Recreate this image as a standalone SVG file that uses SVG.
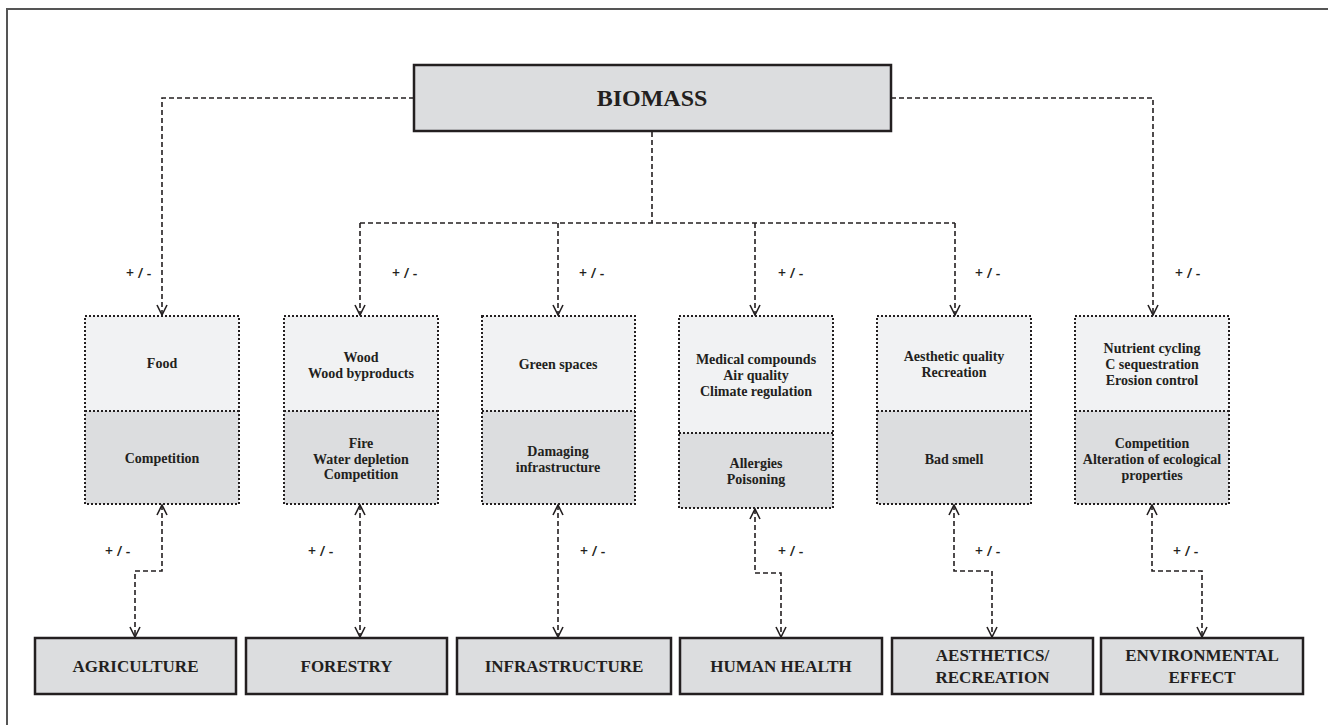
<svg xmlns="http://www.w3.org/2000/svg" width="1328" height="725" viewBox="0 0 1328 725">
<style>
.frame{fill:#fff;stroke:#555;stroke-width:2}
.solid{fill:#dcdddf;stroke:#231f20;stroke-width:2.5}
.top{fill:#f1f2f3;stroke:none}
.bot{fill:#dcdddf;stroke:none}
.dot{fill:none;stroke:#231f20;stroke-width:2;stroke-dasharray:2 2}
.con{fill:none;stroke:#231f20;stroke-width:1.6;stroke-dasharray:5 3}
.t{font-family:"Liberation Serif","Times New Roman",serif;font-weight:bold;font-size:14px;fill:#231f20;text-anchor:middle}
.h{font-family:"Liberation Serif","Times New Roman",serif;font-weight:bold;font-size:17px;fill:#231f20;text-anchor:middle}
.pm{font-family:"Open Sans","Liberation Sans",Arial,sans-serif;font-size:14px;font-weight:600;fill:#231f20}
</style>
<defs>
<marker id="ah" viewBox="0 0 12 12" markerWidth="12" markerHeight="12" refX="11" refY="6" orient="auto-start-reverse" markerUnits="userSpaceOnUse">
<path d="M1,1 L11,6 L1,11" fill="none" stroke="#231f20" stroke-width="1.6" stroke-dasharray="none"/>
</marker>
</defs>
<rect class="frame" x="7" y="9" width="1340" height="740"/>

<g id="connectors">
<path class="con" d="M414,98 H162 V315" marker-end="url(#ah)"/>
<path class="con" d="M891,98 H1153 V315" marker-end="url(#ah)"/>
<path class="con" d="M652,132 V223"/>
<path class="con" d="M360,223 H955"/>
<path class="con" d="M360,223 V315" marker-end="url(#ah)"/>
<path class="con" d="M558,223 V315" marker-end="url(#ah)"/>
<path class="con" d="M755,223 V315" marker-end="url(#ah)"/>
<path class="con" d="M955,223 V315" marker-end="url(#ah)"/>
<path class="con" d="M162,505 V571 H135 V637" marker-start="url(#ah)" marker-end="url(#ah)"/>
<path class="con" d="M360,505 V637" marker-start="url(#ah)" marker-end="url(#ah)"/>
<path class="con" d="M558,505 V637" marker-start="url(#ah)" marker-end="url(#ah)"/>
<path class="con" d="M755,509 V573 H781 V637" marker-start="url(#ah)" marker-end="url(#ah)"/>
<path class="con" d="M954,505 V571 H992 V637" marker-start="url(#ah)" marker-end="url(#ah)"/>
<path class="con" d="M1152,505 V571 H1202 V637" marker-start="url(#ah)" marker-end="url(#ah)"/>
<text class="pm" x="126" y="278">+ / -</text>
<text class="pm" x="392" y="278">+ / -</text>
<text class="pm" x="579" y="278">+ / -</text>
<text class="pm" x="778" y="278">+ / -</text>
<text class="pm" x="975" y="278">+ / -</text>
<text class="pm" x="1175" y="278">+ / -</text>
<text class="pm" x="105" y="556">+ / -</text>
<text class="pm" x="308" y="556">+ / -</text>
<text class="pm" x="580" y="556">+ / -</text>
<text class="pm" x="778" y="556">+ / -</text>
<text class="pm" x="975" y="556">+ / -</text>
<text class="pm" x="1173" y="556">+ / -</text>
</g>

<g id="biomass">
<rect class="solid" x="414" y="65" width="477" height="66"/>
<text class="h" x="652" y="106" style="font-size:24px">BIOMASS</text>
</g>

<g id="agri-effects">
<rect class="top" x="85" y="316" width="154" height="95"/>
<rect class="bot" x="85" y="411" width="154" height="93"/>
<rect class="dot" x="85" y="316" width="154" height="188"/>
<line class="dot" x1="85" y1="411" x2="239" y2="411"/>
<text class="t" x="162" y="368">Food</text>
<text class="t" x="162" y="463">Competition</text>
</g>

<g id="forestry-effects">
<rect class="top" x="284" y="316" width="154" height="95"/>
<rect class="bot" x="284" y="411" width="154" height="93"/>
<rect class="dot" x="284" y="316" width="154" height="188"/>
<line class="dot" x1="284" y1="411" x2="438" y2="411"/>
<text class="t" x="361" y="362">Wood</text>
<text class="t" x="361" y="378">Wood byproducts</text>
<text class="t" x="361" y="448">Fire</text>
<text class="t" x="361" y="464">Water depletion</text>
<text class="t" x="361" y="479">Competition</text>
</g>

<g id="infra-effects">
<rect class="top" x="482" y="316" width="153" height="95"/>
<rect class="bot" x="482" y="411" width="153" height="93"/>
<rect class="dot" x="482" y="316" width="153" height="188"/>
<line class="dot" x1="482" y1="411" x2="635" y2="411"/>
<text class="t" x="558" y="369">Green spaces</text>
<text class="t" x="558" y="456">Damaging</text>
<text class="t" x="558" y="472">infrastructure</text>
</g>

<g id="health-effects">
<rect class="top" x="679" y="316" width="154" height="117"/>
<rect class="bot" x="679" y="433" width="154" height="75"/>
<rect class="dot" x="679" y="316" width="154" height="192"/>
<line class="dot" x1="679" y1="433" x2="833" y2="433"/>
<text class="t" x="756" y="364">Medical compounds</text>
<text class="t" x="756" y="380">Air quality</text>
<text class="t" x="756" y="396">Climate regulation</text>
<text class="t" x="756" y="468">Allergies</text>
<text class="t" x="756" y="484">Poisoning</text>
</g>

<g id="aesthetic-effects">
<rect class="top" x="877" y="316" width="154" height="95"/>
<rect class="bot" x="877" y="411" width="154" height="93"/>
<rect class="dot" x="877" y="316" width="154" height="188"/>
<line class="dot" x1="877" y1="411" x2="1031" y2="411"/>
<text class="t" x="954" y="361">Aesthetic quality</text>
<text class="t" x="954" y="377">Recreation</text>
<text class="t" x="954" y="464">Bad smell</text>
</g>

<g id="env-effects">
<rect class="top" x="1075" y="316" width="154" height="95"/>
<rect class="bot" x="1075" y="411" width="154" height="93"/>
<rect class="dot" x="1075" y="316" width="154" height="188"/>
<line class="dot" x1="1075" y1="411" x2="1229" y2="411"/>
<text class="t" x="1152" y="353">Nutrient cycling</text>
<text class="t" x="1152" y="369">C sequestration</text>
<text class="t" x="1152" y="385">Erosion control</text>
<text class="t" x="1152" y="448">Competition</text>
<text class="t" x="1152" y="464">Alteration of ecological</text>
<text class="t" x="1152" y="480">properties</text>
</g>

<g id="agriculture">
<rect class="solid" x="35" y="638" width="201" height="56"/>
<text class="h" x="135.5" y="672">AGRICULTURE</text>
</g>
<g id="forestry">
<rect class="solid" x="246" y="638" width="201" height="56"/>
<text class="h" x="346.5" y="672">FORESTRY</text>
</g>
<g id="infrastructure">
<rect class="solid" x="457" y="638" width="214" height="56"/>
<text class="h" x="564" y="672">INFRASTRUCTURE</text>
</g>
<g id="human-health">
<rect class="solid" x="680" y="638" width="202" height="56"/>
<text class="h" x="781" y="672">HUMAN HEALTH</text>
</g>
<g id="aesthetics">
<rect class="solid" x="892" y="638" width="201" height="56"/>
<text class="h" x="992.5" y="661">AESTHETICS/</text>
<text class="h" x="992.5" y="683">RECREATION</text>
</g>
<g id="environmental">
<rect class="solid" x="1101" y="638" width="202" height="56"/>
<text class="h" x="1202" y="661">ENVIRONMENTAL</text>
<text class="h" x="1202" y="683">EFFECT</text>
</g>
</svg>
